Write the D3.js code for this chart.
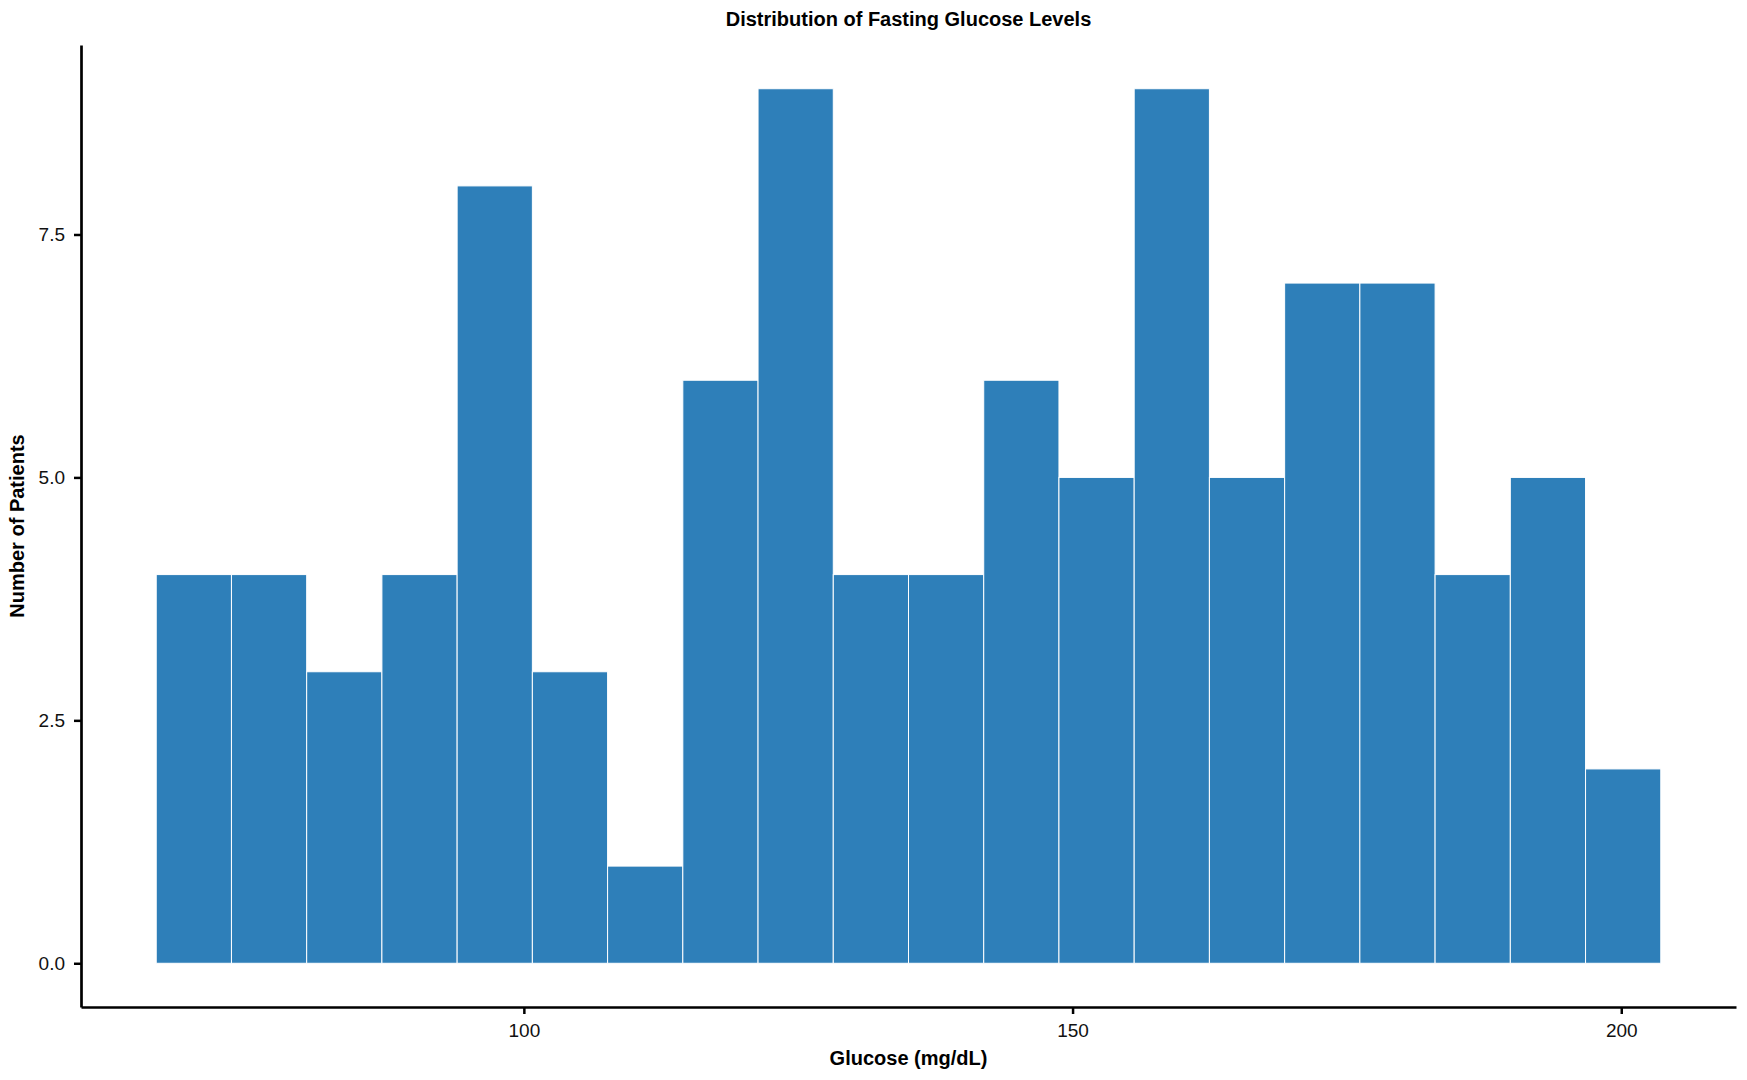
<!DOCTYPE html>
<html>
<head>
<meta charset="utf-8">
<script src="https://cdn.jsdelivr.net/npm/d3@7"></script>
<style>
  body { margin: 0; background: #fff; }
  text { font-family: "Liberation Sans", Arial, sans-serif; }
  .axis text { font-size: 19px; fill: #111; }
  .axis line, .axis path { stroke: #000; }
</style>
</head>
<body>
<svg id="mainFrame"></svg>
<script>
// histogram bins: 20 equal bins from min to max glucose
const glucoseMin = 66.5
const glucoseMax = 203.6
const binCounts = [4, 4, 3, 4, 8, 3, 1, 6, 9, 4, 4, 6, 5, 9, 5, 7, 7, 4, 5, 2]
const xTicks = [100, 150, 200]
const yTicks = [0, 2.5, 5, 7.5]

const width = 1747
const height = 1080

const svg = d3.select('#mainFrame')
    .attr('width', width)
    .attr('height', height)

const margin = { top: 45, right: 11, bottom: 73, left: 81 }
const innerW = width - margin.left - margin.right
const innerH = height - margin.top - margin.bottom

const g = svg.append('g')
    .attr('transform', `translate(${margin.left},${margin.top})`)

const binWidth = (glucoseMax - glucoseMin) / binCounts.length
const bins = binCounts.map((c, i) => ({
    x0: glucoseMin + i * binWidth,
    x1: glucoseMin + (i + 1) * binWidth,
    count: c
}))

// matplotlib-like 5% margins
const xPad = (glucoseMax - glucoseMin) * 0.05
const xScale = d3.scaleLinear()
    .domain([glucoseMin - xPad, glucoseMax + xPad])
    .range([0, innerW])

const yMax = d3.max(binCounts)
const yScale = d3.scaleLinear()
    .domain([-yMax * 0.05, yMax * 1.05])
    .range([innerH, 0])

// bars
g.append('g').selectAll('rect')
    .data(bins)
    .join('rect')
    .attr('x', d => xScale(d.x0))
    .attr('y', d => yScale(d.count))
    .attr('width', d => xScale(d.x1) - xScale(d.x0))
    .attr('height', d => yScale(0) - yScale(d.count))
    .attr('fill', '#2e7fb9')
    .attr('stroke', '#ffffff')
    .attr('stroke-width', 1)

// axes
const xAxis = d3.axisBottom(xScale)
    .tickValues(xTicks)
    .tickSize(7)
    .tickPadding(10)
    .tickSizeOuter(0)

const xg = g.append('g')
    .attr('class', 'axis')
    .attr('transform', `translate(0,${innerH})`)
    .call(xAxis)
xg.select('.domain').attr('stroke-width', 2.7)
xg.selectAll('.tick line').attr('stroke-width', 2.5)

const yAxis = d3.axisLeft(yScale)
    .tickValues(yTicks)
    .tickFormat(d3.format('.1f'))
    .tickSize(7)
    .tickPadding(9)
    .tickSizeOuter(0)

const yg = g.append('g')
    .attr('class', 'axis')
    .call(yAxis)
yg.select('.domain').attr('stroke-width', 2.7)
yg.selectAll('.tick line').attr('stroke-width', 2.5)

// titles
svg.append('text')
    .attr('x', width / 2 + 35)
    .attr('y', 26)
    .attr('text-anchor', 'middle')
    .style('font-size', '20px')
    .style('font-weight', 'bold')
    .text('Distribution of Fasting Glucose Levels')

svg.append('text')
    .attr('x', margin.left + xScale((glucoseMin + glucoseMax) / 2))
    .attr('y', 1065)
    .attr('text-anchor', 'middle')
    .style('font-size', '20px')
    .style('font-weight', 'bold')
    .text('Glucose (mg/dL)')

svg.append('text')
    .attr('transform', `translate(24,${margin.top + innerH / 2}) rotate(-90)`)
    .attr('text-anchor', 'middle')
    .style('font-size', '20px')
    .style('font-weight', 'bold')
    .text('Number of Patients')
</script>
</body>
</html>
